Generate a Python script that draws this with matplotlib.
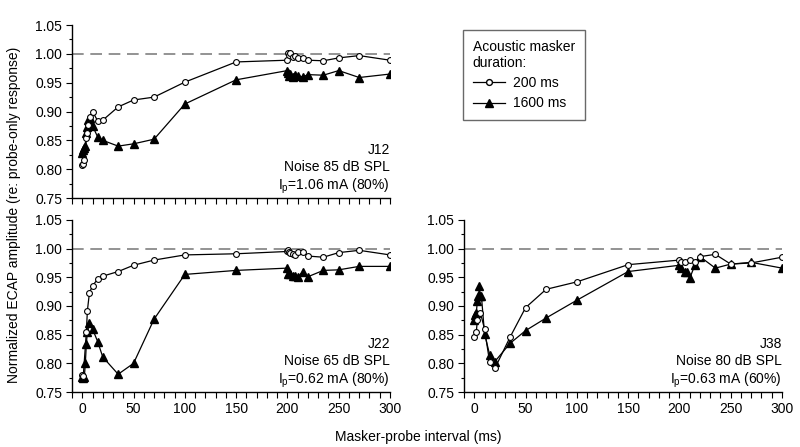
import matplotlib
matplotlib.use('Agg')
import matplotlib.pyplot as plt
from matplotlib.lines import Line2D
from matplotlib.ticker import MultipleLocator

plt.rcParams['font.family'] = ['Liberation Sans', 'DejaVu Sans']
plt.rcParams['font.size'] = 10

# J12
j12_x_200 = [0, 1, 2, 4, 5, 6, 8, 10, 15, 20, 35, 50, 70, 100, 150, 200, 201, 202, 203,
             205, 207, 210, 215, 220, 235, 250, 270, 300]
j12_y_200 = [0.807, 0.809, 0.816, 0.854, 0.862, 0.877, 0.891, 0.900, 0.884, 0.885, 0.908,
             0.920, 0.925, 0.951, 0.986, 0.989, 1.002, 0.998, 1.001, 0.995, 0.996, 0.993,
             0.993, 0.989, 0.988, 0.993, 0.997, 0.989]
j12_x_1600 = [0, 1, 2, 3, 4, 5, 6, 8, 10, 15, 20, 35, 50, 70, 100, 150, 200, 201, 202, 203,
              205, 207, 210, 215, 220, 235, 250, 270, 300]
j12_y_1600 = [0.828, 0.833, 0.836, 0.840, 0.862, 0.873, 0.885, 0.889, 0.875, 0.856, 0.850,
              0.840, 0.844, 0.852, 0.913, 0.955, 0.971, 0.966, 0.962, 0.965, 0.960, 0.963,
              0.962, 0.960, 0.964, 0.963, 0.971, 0.959, 0.965]

# J22
j22_x_200 = [0, 1, 4, 5, 7, 10, 15, 20, 35, 50, 70, 100, 150, 200, 201, 202, 203, 205, 207,
             210, 215, 220, 235, 250, 270, 300]
j22_y_200 = [0.780, 0.778, 0.855, 0.892, 0.923, 0.935, 0.947, 0.952, 0.960, 0.971, 0.980,
             0.989, 0.991, 0.995, 0.997, 0.994, 0.993, 0.991, 0.989, 0.994, 0.994, 0.987,
             0.985, 0.993, 0.997, 0.989]
j22_x_1600 = [0, 1, 2, 3, 4, 5, 7, 10, 15, 20, 35, 50, 70, 100, 150, 200, 201, 202, 203, 205,
              207, 210, 215, 220, 235, 250, 270, 300]
j22_y_1600 = [0.776, 0.774, 0.776, 0.800, 0.834, 0.855, 0.870, 0.860, 0.838, 0.811, 0.781,
              0.800, 0.877, 0.955, 0.962, 0.966, 0.955, 0.958, 0.955, 0.953, 0.952, 0.950,
              0.960, 0.951, 0.962, 0.963, 0.969, 0.969]

# J38
j38_x_200 = [0, 2, 3, 6, 10, 15, 20, 35, 50, 70, 100, 150, 200, 202, 205, 210, 215, 220,
             235, 250, 270, 300]
j38_y_200 = [0.846, 0.854, 0.876, 0.888, 0.860, 0.802, 0.791, 0.846, 0.897, 0.929, 0.942,
             0.972, 0.980, 0.977, 0.976, 0.980, 0.977, 0.986, 0.990, 0.973, 0.975, 0.985]
j38_x_1600 = [0, 1, 2, 3, 4, 5, 6, 7, 10, 15, 20, 35, 50, 70, 100, 150, 200, 202, 205, 207,
              210, 215, 220, 235, 250, 270, 300]
j38_y_1600 = [0.876, 0.885, 0.888, 0.908, 0.917, 0.934, 0.917, 0.917, 0.852, 0.815, 0.803,
              0.835, 0.857, 0.879, 0.910, 0.960, 0.971, 0.966, 0.960, 0.960, 0.948, 0.971,
              0.986, 0.966, 0.973, 0.976, 0.966]

panels = [
    ('J12', 'Noise 85 dB SPL', '1.06 mA (80%)', j12_x_200, j12_y_200, j12_x_1600, j12_y_1600),
    ('J22', 'Noise 65 dB SPL', '0.62 mA (80%)', j22_x_200, j22_y_200, j22_x_1600, j22_y_1600),
    ('J38', 'Noise 80 dB SPL', '0.63 mA (60%)', j38_x_200, j38_y_200, j38_x_1600, j38_y_1600),
]

yticks = [0.75, 0.80, 0.85, 0.90, 0.95, 1.00, 1.05]
xticks = [0, 50, 100, 150, 200, 250, 300]

fig = plt.figure(figsize=(8, 4.47), dpi=100)
rects = [(0.09, 0.557, 0.3975, 0.387),
         (0.09, 0.123, 0.3975, 0.385),
         (0.58, 0.123, 0.3975, 0.385)]


def draw_panel(ax, subj, noise, current, x2, y2, x16, y16, show_xlabels):
    ax.axhline(1.0, color='#808080', lw=1.2, ls=(0, (7, 4)), zorder=1)
    ax.plot(x2, y2, '-', color='black', lw=0.9, marker='o', ms=4.2,
            mfc='white', mec='black', mew=0.8, zorder=3)
    ax.plot(x16, y16, '-', color='black', lw=0.9, marker='^', ms=5.5,
            mfc='black', mec='black', zorder=2)
    ax.set_xlim(-10, 300)
    ax.set_ylim(0.75, 1.05)
    ax.set_yticks(yticks)
    ax.set_yticklabels(['%.2f' % v for v in yticks])
    ax.yaxis.set_minor_locator(MultipleLocator(0.025))
    ax.set_xticks(xticks)
    ax.xaxis.set_minor_locator(MultipleLocator(10))
    if not show_xlabels:
        ax.set_xticklabels([])
    for s in ['top', 'right']:
        ax.spines[s].set_visible(False)
    for s in ['left', 'bottom']:
        ax.spines[s].set_linewidth(1.0)
    ax.tick_params(axis='both', which='major', direction='out', length=4, width=0.8,
                   labelsize=10, pad=3)
    ax.tick_params(axis='x', which='minor', direction='out', length=4, width=0.8)
    ax.tick_params(axis='y', which='minor', direction='out', length=2, width=0.8)
    ax.text(1.0, 0.01, subj + '\n' + noise + '\n' + r'I$_\mathregular{p}$=' + current,
            transform=ax.transAxes, ha='right', va='bottom', multialignment='right',
            fontsize=10, linespacing=1.25)


for i, (rect, p) in enumerate(zip(rects, panels)):
    ax = fig.add_axes(rect)
    draw_panel(ax, *p, show_xlabels=(i > 0))

handles = [Line2D([], [], color='black', lw=0.9, marker='o', ms=4.2, mfc='white', mec='black'),
           Line2D([], [], color='black', lw=0.9, marker='^', ms=5.5, mfc='black', mec='black')]
leg = fig.legend(handles, ['200 ms', '1600 ms'], loc='upper left',
                 bbox_to_anchor=(463 / 800, 1 - 30 / 447), title='Acoustic masker\nduration:',
                 alignment='left', fancybox=False, edgecolor='#444444', fontsize=10,
                 title_fontsize=10, handlelength=2.3, borderpad=0.7, labelspacing=0.45,
                 handletextpad=0.6, borderaxespad=0)
leg.get_frame().set_linewidth(1.0)

fig.text(0.5225, 0.022, 'Masker-probe interval (ms)', ha='center', va='center', fontsize=10)
fig.text(0.018, 1 - 215 / 447, 'Normalized ECAP amplitude (re: probe-only response)',
         ha='center', va='center', rotation=90, fontsize=10)

fig.savefig('out.png', dpi=100)
